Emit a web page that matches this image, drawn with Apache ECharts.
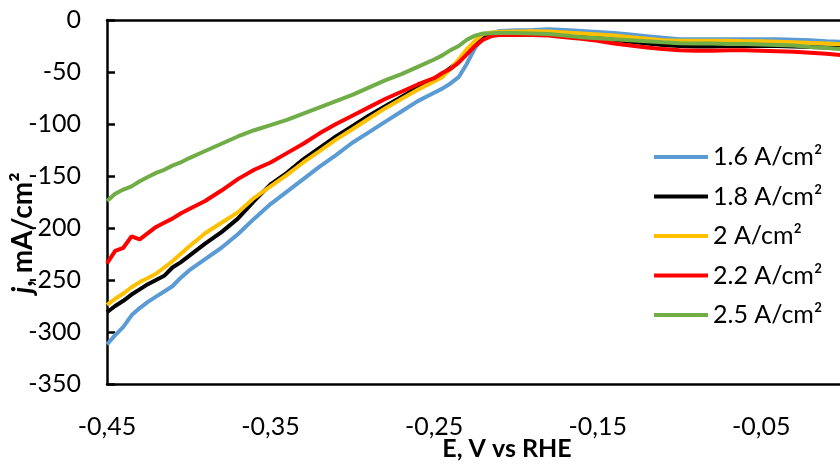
<!DOCTYPE html>
<html>
<head>
<meta charset="utf-8">
<script src="https://cdn.jsdelivr.net/npm/echarts@6/dist/echarts.min.js"></script>
<style>
  html, body { margin: 0; padding: 0; background: #fff; }
  #chart { width: 840px; height: 464px; }
</style>
</head>
<body>
<div id="chart"></div>
<script>
// Potential, V vs RHE (shared x values)
const potential = [
  -0.45, -0.445, -0.44, -0.435, -0.43, -0.425, -0.42, -0.415, -0.41, -0.405,
  -0.40, -0.39, -0.38, -0.37, -0.36, -0.35, -0.34, -0.33, -0.32, -0.31,
  -0.30, -0.29, -0.28, -0.27, -0.26, -0.25,
  -0.245, -0.24, -0.235, -0.23, -0.225, -0.22, -0.215, -0.21,
  -0.20, -0.19, -0.18, -0.17, -0.16, -0.15, -0.14, -0.13, -0.12, -0.11,
  -0.10, -0.09, -0.08, -0.07, -0.06, -0.05, -0.04, -0.03, -0.02, -0.01, 0.00
];

const seriesNames = ['1.6 A/cm²', '1.8 A/cm²', '2 A/cm²', '2.2 A/cm²', '2.5 A/cm²'];
const seriesColors = ['#5B9BD5', '#000000', '#FFC000', '#FF0000', '#70AD47'];

// current density j, mA/cm²
const j16 = [
  -312, -303, -295, -284, -277, -271, -266, -261, -256, -248,
  -241, -230, -219, -206, -191, -177, -165, -153, -141, -130,
  -118, -108, -98, -88, -78, -70,
  -66, -61, -55, -42, -27, -17, -13, -10.5,
  -9.8, -9.5, -9, -9.5, -10.5, -11.5, -12.5, -14, -15.5, -17,
  -18.5, -18.5, -18.5, -18.5, -18.5, -18.5, -18.5, -19, -19.5, -20.5, -21
];
const j18 = [
  -281, -275, -270, -264, -259, -254, -250, -246, -238, -233,
  -227, -215, -204, -191, -174, -158, -147, -134, -123, -112,
  -102, -92, -83, -74, -65, -57,
  -52, -46, -40, -32, -24, -17, -13.5, -12.5,
  -12, -12, -12.5, -14, -15.5, -17, -19, -21, -22.5, -24,
  -25, -25.5, -25.5, -25, -25, -25, -25, -25.5, -26, -26.5, -27
];
const j20 = [
  -274, -268, -263, -257, -252, -248, -244, -238, -232, -225,
  -218, -205, -195, -185, -171, -160, -149, -137, -126, -115,
  -105, -95, -85, -76, -67, -59,
  -55, -47, -38, -28, -20, -13.5, -12, -11.3,
  -11, -10.8, -11, -12, -13, -14, -15, -16.5, -18, -19.5,
  -20, -20, -20, -20, -20.5, -20.5, -21, -21.5, -22, -22.5, -23.5
];
const j22 = [
  -234, -222, -219, -208, -211, -205, -199, -195, -191, -186,
  -182, -174, -164, -153, -144, -137, -128, -119, -109, -100,
  -92, -84, -76, -69, -62, -56,
  -51, -47, -41, -33, -25, -19, -15.5, -14.5,
  -14.4, -14.5, -15, -16.5, -18, -20, -22.5, -24.5, -26.5, -28,
  -29, -29.5, -29.5, -29, -29, -29.5, -30, -30.5, -31.5, -32.5, -34
];
const j25 = [
  -174, -167, -163, -160, -155, -151, -147, -144, -140, -137,
  -133, -126, -119, -112, -106, -101, -96, -90, -84, -78,
  -72, -65, -58, -52, -45, -38,
  -34, -29, -25, -19, -15, -13, -12.8, -12.6,
  -12.5, -13, -13.5, -15, -16.5, -17.5, -18.5, -19.5, -20.5, -21.5,
  -22.4, -22.5, -22.5, -23, -23, -23.5, -24, -24.5, -26, -27, -28
];
const allJ = [j16, j18, j20, j22, j25];

const xTickMin = -0.45, xMax = 0, xInterval = 0.1;
const yMin = -350, yMax = 0, yInterval = 50;

const FONT = 'Lato';
const FS = 25;

const chart = echarts.init(document.getElementById('chart'), null, { renderer: 'canvas' });

const series = seriesNames.map((name, i) => ({
  name: name,
  type: 'line',
  xAxisIndex: 0,
  yAxisIndex: 0,
  showSymbol: false,
  symbol: 'none',
  smooth: false,
  lineStyle: { width: 4, color: seriesColors[i] },
  itemStyle: { color: seriesColors[i] },
  data: potential.map((x, k) => [x, allJ[i][k]])
}));

const option = {
  animation: false,
  backgroundColor: '#ffffff',
  grid: { left: 107, right: -3, top: 20, bottom: 80, containLabel: false, outerBoundsMode: 'none' },
  legend: {
    orient: 'vertical',
    left: 649,
    top: 138,
    icon: 'rect',
    itemWidth: 54,
    itemHeight: 4,
    itemGap: 11.5,
    data: seriesNames,
    textStyle: { fontFamily: FONT, fontSize: FS, color: '#000', lineHeight: 28 }
  },
  xAxis: [
    {
      type: 'value',
      position: 'bottom',
      min: xTickMin,
      max: xMax,
      interval: xInterval,
      splitLine: { show: false },
      axisTick: { show: false },
      axisLine: { show: true, onZero: false, lineStyle: { color: '#000', width: 2.5 } },
      axisLabel: {
        fontFamily: FONT, fontSize: FS, color: '#000', margin: 30,
        showMaxLabel: false,
        formatter: v => v.toFixed(2).replace('.', ',')
      },
      name: 'E, V vs RHE',
      nameLocation: 'middle',
      nameGap: 52,
      nameMoveOverlap: false,
      nameTextStyle: {
        fontFamily: FONT, fontSize: FS, fontWeight: 'bold', color: '#000',
        padding: [0, 0, 0, 64]
      }
    },
    {
      type: 'value',
      position: 'top',
      min: xTickMin,
      max: xMax,
      interval: xInterval,
      splitLine: { show: false },
      axisTick: { show: false },
      axisLabel: { show: false },
      axisLine: { show: true, onZero: false, lineStyle: { color: '#000', width: 2.5 } }
    }
  ],
  yAxis: {
    type: 'value',
    min: yMin,
    max: yMax,
    interval: yInterval,
    splitLine: { show: false },
    axisLine: { show: true, onZero: false, lineStyle: { color: '#000', width: 2.5 } },
    axisTick: { show: true, inside: true, length: 8, lineStyle: { color: '#000', width: 2.5 } },
    axisLabel: { fontFamily: FONT, fontSize: FS, color: '#000', margin: 26 },
    name: '{i|j}{b|, mA/cm²}',
    nameLocation: 'middle',
    nameGap: 70,
    nameRotate: 90,
    nameMoveOverlap: false,
    nameTextStyle: {
      fontFamily: FONT, fontSize: 28, fontWeight: 'bold', color: '#000',
      padding: [0, 62, 0, 0],
      rich: {
        i: { fontFamily: FONT, fontSize: 28, fontWeight: 'bold', fontStyle: 'italic', color: '#000' },
        b: { fontFamily: FONT, fontSize: 28, fontWeight: 'bold', color: '#000' }
      }
    }
  },
  series: series
};

chart.setOption(option);
</script>
</body>
</html>
